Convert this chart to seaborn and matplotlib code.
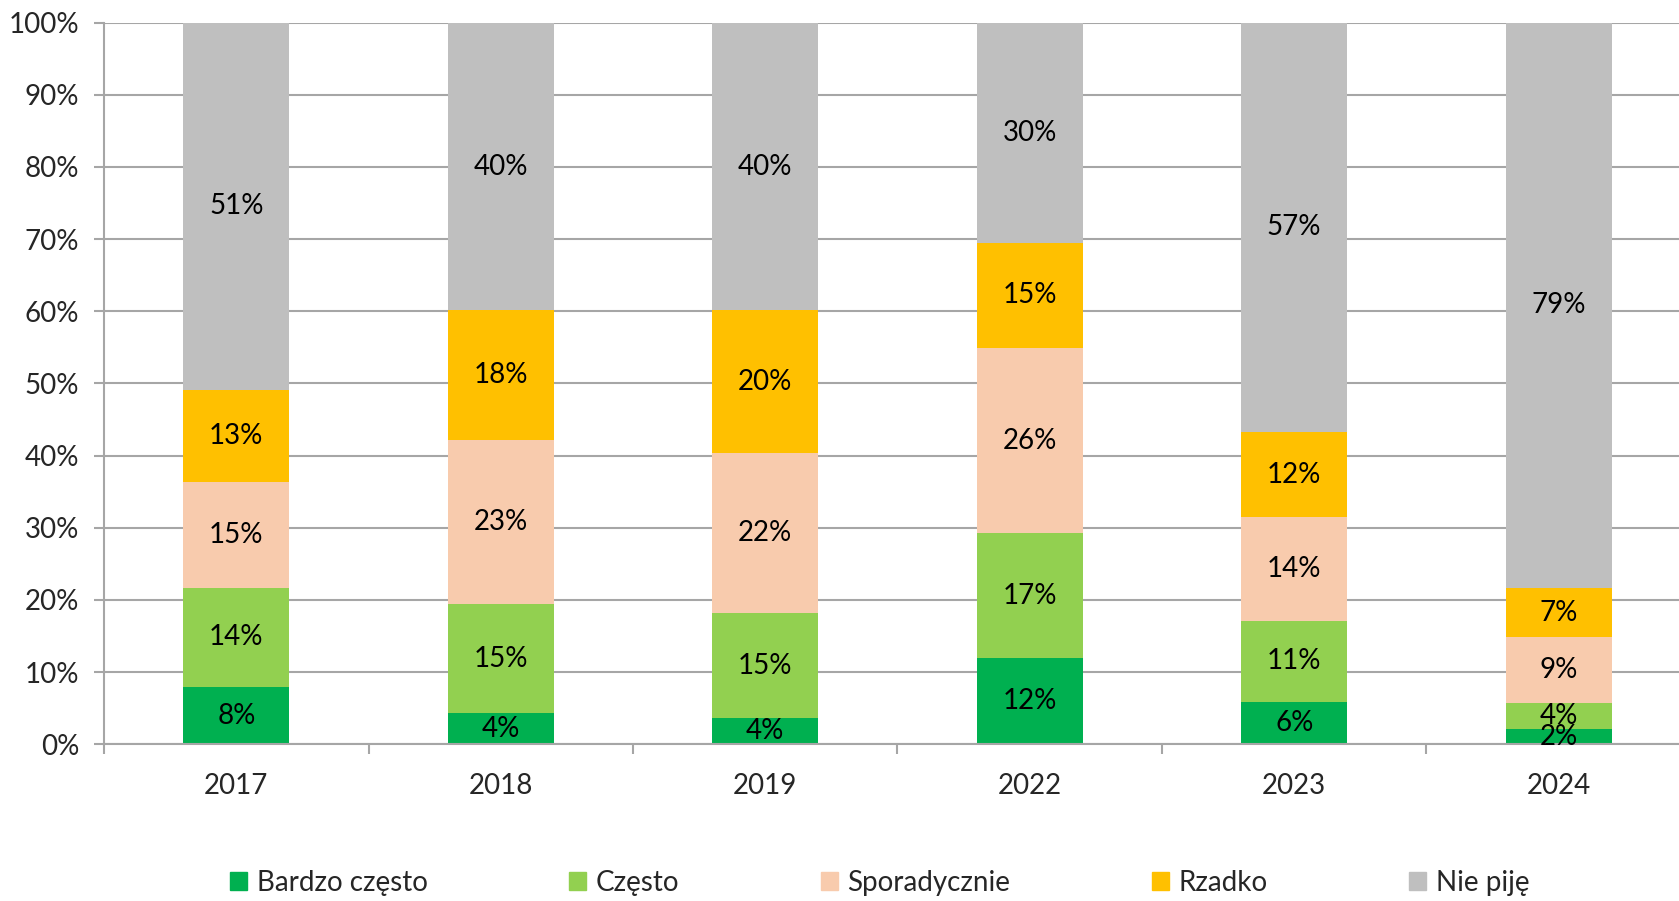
import numpy as np
import matplotlib
matplotlib.use("Agg")
import matplotlib.pyplot as plt
import seaborn as sns
from matplotlib.ticker import FixedLocator, PercentFormatter

years = ["2017", "2018", "2019", "2022", "2023", "2024"]
series = ["Bardzo często", "Często", "Sporadycznie", "Rzadko", "Nie piję"]
bardzo_czesto = [7.9, 4.3, 3.6, 11.9, 5.9, 2.1]
czesto = [13.8, 15.1, 14.6, 17.3, 11.2, 3.6]
sporadycznie = [14.6, 22.7, 22.2, 25.7, 14.4, 9.1]
rzadko = [12.8, 18.0, 19.7, 14.6, 11.7, 6.8]
nie_pije = [51.0, 39.9, 39.9, 30.4, 56.8, 78.6]
colors = ["#00B050", "#92D050", "#F8CBAD", "#FFC000", "#BFBFBF"]

sns.set_style("white")
plt.rcParams["font.family"] = ["Lato", "DejaVu Sans"]
fs = 20

fig = plt.figure(figsize=(16.79, 9.01), dpi=100)
ax = fig.add_axes([0.062, 0.174, 0.938, 0.801])

bottom = np.zeros(len(years))
for name, vals, c in zip(series, [bardzo_czesto, czesto, sporadycznie, rzadko, nie_pije], colors):
    sns.barplot(x=years, y=vals, bottom=bottom, color=c, width=0.4, label=name,
                ax=ax, linewidth=0, saturation=1, legend=False)
    bottom = bottom + np.array(vals)

for cont in ax.containers:
    vals = [b.get_height() for b in cont]
    ax.bar_label(cont, labels=[f"{v:.0f}%" for v in vals], label_type="center",
                 fontsize=fs, color="black")

ax.set_ylim(0, 100)
ax.set_xlim(-0.5, 5.455)
ax.set_yticks(np.arange(0, 101, 10))
ax.yaxis.set_major_formatter(PercentFormatter(decimals=0))
ax.grid(axis="y", color="#A6A6A6", linewidth=1.5)
ax.set_axisbelow(True)
for s in ["top", "right"]:
    ax.spines[s].set_visible(False)
for s in ["left", "bottom"]:
    ax.spines[s].set_color("#A6A6A6")
    ax.spines[s].set_linewidth(1.5)
ax.tick_params(axis="y", length=7, width=1.5, color="#A6A6A6", pad=11, labelsize=fs, left=True)
ax.tick_params(axis="x", which="major", length=0, pad=21, labelsize=fs)
ax.xaxis.set_minor_locator(FixedLocator(np.arange(-0.5, 5.6, 1)))
ax.tick_params(axis="x", which="minor", length=7, width=1.5, color="#A6A6A6", bottom=True)
ax.set_xlabel("")
ax.set_ylabel("")

handles = [plt.Rectangle((0, 0), 1, 1, color=c) for c in colors]
fig.legend(handles, series, loc="center", bbox_to_anchor=(0.524, 0.02), ncol=5,
           frameon=False, fontsize=fs, handlelength=0.6, handleheight=0.6,
           handletextpad=0.35, columnspacing=5.1)

fig.savefig("out.png", dpi=100)
